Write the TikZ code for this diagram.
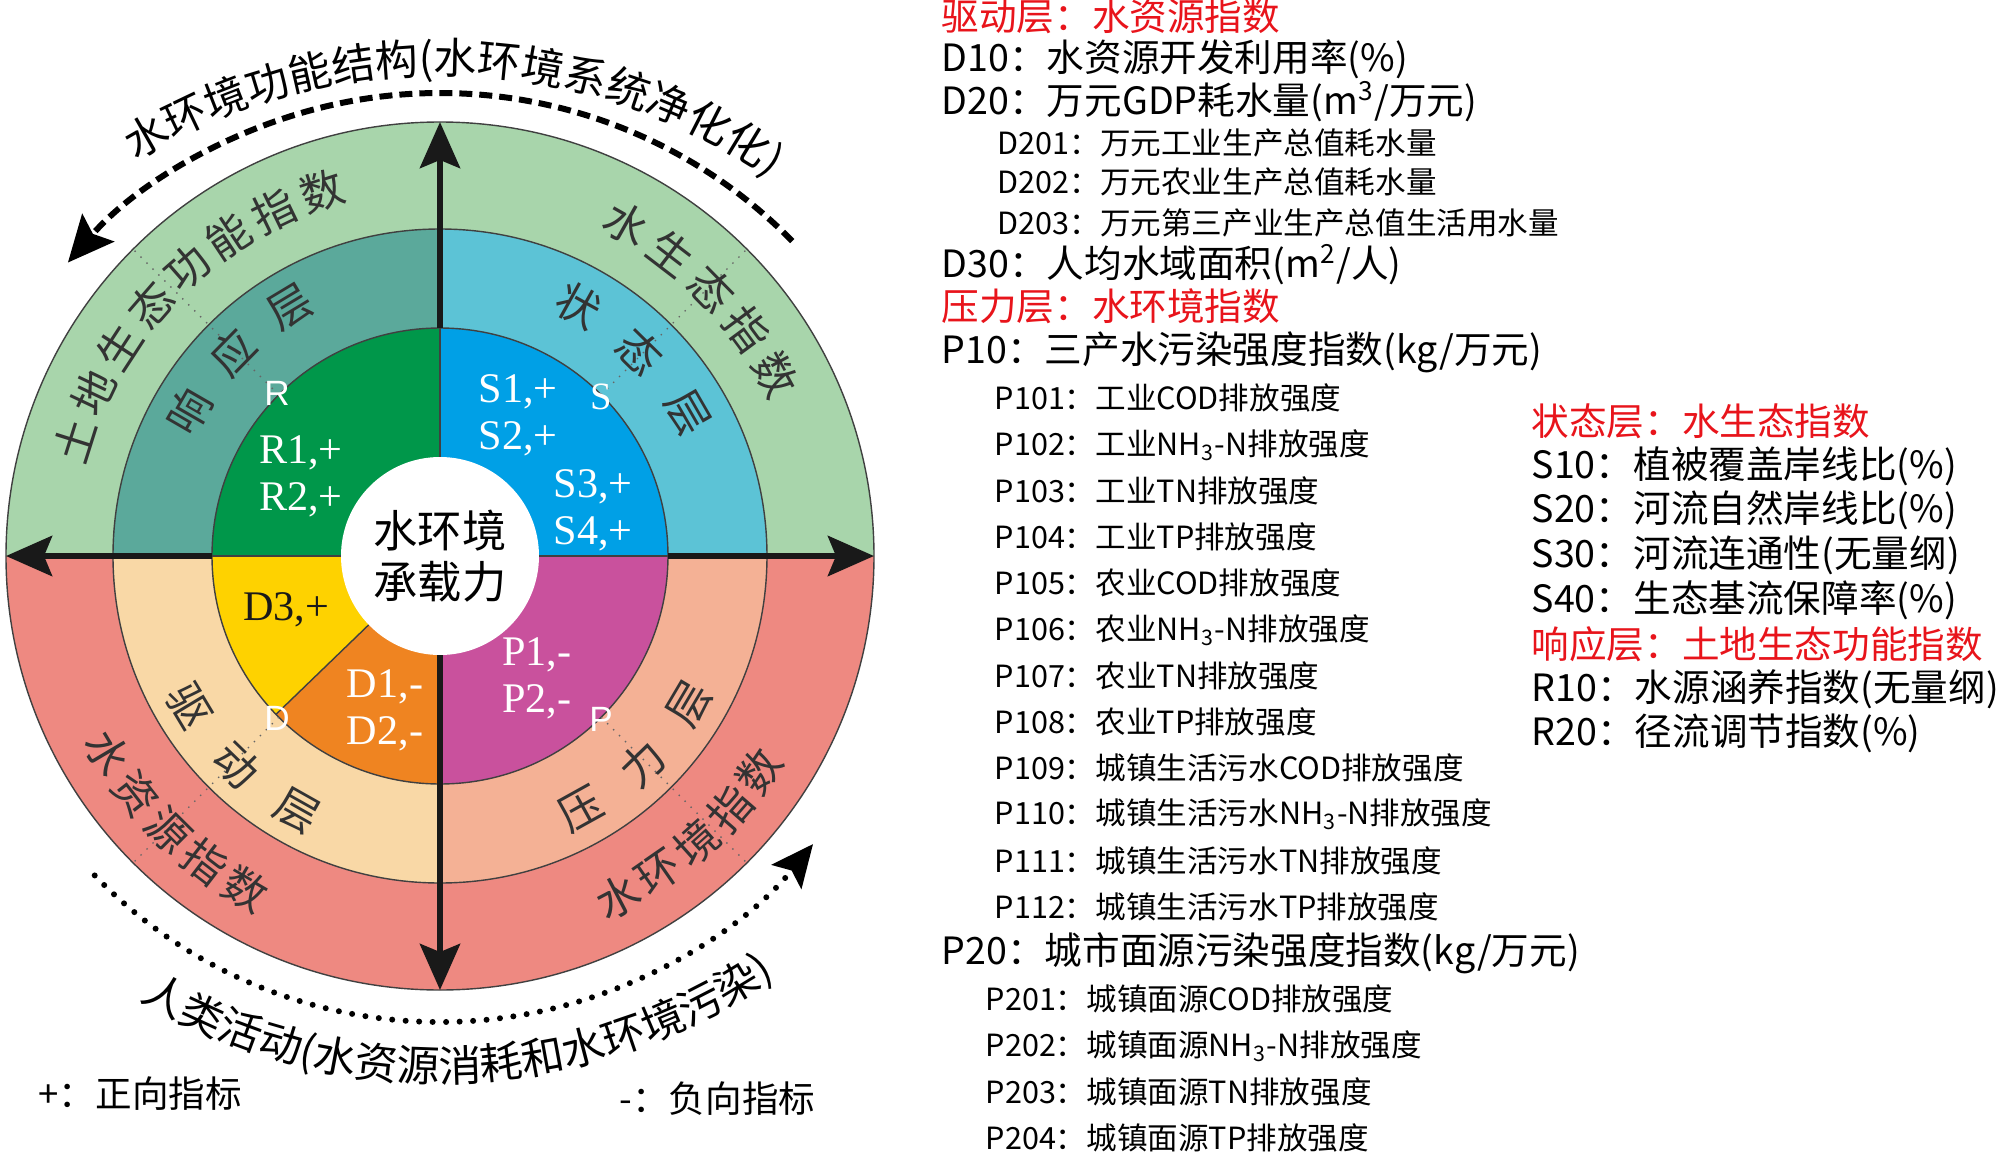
\documentclass[tikz,border=0pt]{standalone}
\usepackage{fontspec}
\setmainfont{Noto Sans CJK SC}
\newfontfamily\romanlab{Liberation Serif}
\newfontfamily\sanslab{Liberation Sans}
\usepackage{xcolor}
\definecolor{landgreen}{HTML}{A8D5AB}
\definecolor{respteal}{HTML}{5BA99B}
\definecolor{stateblue}{HTML}{5CC3D6}
\definecolor{drivepeach}{HTML}{F9D8A6}
\definecolor{presssalmon}{HTML}{F4B195}
\definecolor{waterred}{HTML}{EE8981}
\definecolor{rgreen}{HTML}{00974A}
\definecolor{sblue}{HTML}{00A0E6}
\definecolor{pmagenta}{HTML}{C9519D}
\definecolor{dorange}{HTML}{EF8421}
\definecolor{dyellow}{HTML}{FED200}
\definecolor{headred}{HTML}{E8141B}
\usepackage{tikz}
\usetikzlibrary{arrows.meta, decorations.text, positioning, calc}

\newcommand{\listsz}{\fontsize{10.7pt}{12pt}\selectfont}
\newcommand{\subsz}{\fontsize{8.7pt}{10pt}\selectfont}
\newcommand{\ringsz}{\fontsize{12.4pt}{14pt}\selectfont}
\newcommand{\arcsz}{\fontsize{12.2pt}{14.5pt}\selectfont}
\newcommand{\outerR}{4.34}
\newcommand{\midR}{3.27}
\newcommand{\innerR}{2.28}
\newcommand{\holeR}{0.99}

\begin{document}
\begin{tikzpicture}[every node/.style={font=\listsz}]
\tikzstyle{ringline}=[draw=black!75, line width=0.4pt]
\tikzstyle{diag}=[draw=black!60, line width=0.4pt, dotted]
\tikzstyle{axis}=[line width=0.65mm, black!90, -{Stealth[length=4.6mm,width=4mm,inset=0.8mm]}]
\tikzstyle{ringtxt}=[font=\ringsz, text=black!80, inner sep=0pt]
\tikzstyle{idx}=[font=\romanlab\fontsize{12pt}{13.4pt}\selectfont, text=white, align=left, inner sep=0pt]
\tikzstyle{layerkey}=[font=\sanslab\fontsize{10pt}{10pt}\selectfont, text=white, inner sep=0pt]
\tikzstyle{head}=[anchor=west, inner sep=0pt, text=headred, font=\listsz]
\tikzstyle{item}=[anchor=west, inner sep=0pt, font=\listsz]
\tikzstyle{subitem}=[anchor=west, inner sep=0pt, font=\subsz]
\useasboundingbox (-4.4,-5.98) rectangle (15.6,5.56);

% rings
\fill[landgreen] (0,0) -- (0:\outerR) arc (0:180:\outerR) -- cycle;
\fill[waterred] (0,0) -- (180:\outerR) arc (180:360:\outerR) -- cycle;
\fill[respteal] (0,0) -- (90:\midR) arc (90:180:\midR) -- cycle;
\fill[stateblue] (0,0) -- (0:\midR) arc (0:90:\midR) -- cycle;
\fill[drivepeach] (0,0) -- (180:\midR) arc (180:270:\midR) -- cycle;
\fill[presssalmon] (0,0) -- (270:\midR) arc (270:360:\midR) -- cycle;
\fill[rgreen] (0,0) -- (90:\innerR) arc (90:180:\innerR) -- cycle;
\fill[sblue] (0,0) -- (0:\innerR) arc (0:90:\innerR) -- cycle;
\fill[dyellow] (0,0) -- (180:\innerR) arc (180:224:\innerR) -- cycle;
\fill[dorange] (0,0) -- (224:\innerR) arc (224:270:\innerR) -- cycle;
\fill[pmagenta] (0,0) -- (270:\innerR) arc (270:360:\innerR) -- cycle;
\foreach \r in {\outerR,\midR,\innerR}
  \draw[ringline] (0,0) circle (\r);
\foreach \a in {0,90,180,224}
  \draw[ringline] (\a:\holeR) -- (\a:\innerR);
\foreach \a in {45,135,225,315}
  \draw[diag] (\a:\innerR) -- (\a:\outerR);
\fill[white] (0,0) circle (\holeR);

% axes
\coordinate (n-in) at (90:\innerR);  \coordinate (n-out) at (90:\outerR);
\coordinate (s-in) at (270:\holeR);  \coordinate (s-out) at (270:\outerR);
\coordinate (w-in) at (180:\innerR); \coordinate (w-out) at (180:\outerR);
\coordinate (e-in) at (0:\innerR);   \coordinate (e-out) at (0:\outerR);
\draw[axis] (n-in) -- (n-out);
\draw[axis] (s-in) -- (s-out);
\draw[axis] (w-in) -- (w-out);
\draw[axis] (e-in) -- (e-out);

% outer arcs
\draw[line width=0.6mm, dash pattern=on 1.3mm off 0.7mm,
  -{Stealth[length=4.6mm,width=4.2mm,inset=0.8mm]}]
  ([shift={(0,-0.3)}]44.4:4.93) arc (44.4:139:4.93);
\draw[line width=0.6mm, line cap=round, dash pattern=on 0pt off 1.35mm,
  -{Stealth[length=4.2mm,width=3.8mm,inset=0.8mm]}]
  ([shift={(0,0.14)}]224:4.8) arc (224:321:4.8);
\path[decorate, decoration={text along path, text align=center,
  text={|\arcsz|水环境功能结构(水环境系统净化化)}}]
  ([shift={(0,-0.95)}]125:5.77) arc (125:52:5.77);
\path[decorate, decoration={text along path, text align=center,
  text={|\arcsz|人类活动(水资源消耗和水环境污染)}}]
  ([shift={(0,0.6)}]236:5.86) arc (236:308:5.86);

% ring words
\foreach \c [count=\i] in {土,地,生,态,功,能,指,数} {
  \pgfmathsetmacro\a{162.5-(\i-1)*7.8}
  \node[ringtxt, rotate=\a-90] (land-\i) at (\a:3.83) {\c};
}
\foreach \c [count=\i] in {水,生,态,指,数} {
  \pgfmathsetmacro\a{60.6-(\i-1)*8.05}
  \node[ringtxt, rotate=\a-90] (eco-\i) at (\a:3.81) {\c};
}
\foreach \c [count=\i] in {水,资,源,指,数} {
  \pgfmathsetmacro\a{210.7+(\i-1)*7.25}
  \node[ringtxt, rotate=\a+90] (res-\i) at (\a:3.86) {\c};
}
\foreach \c [count=\i] in {水,环,境,指,数} {
  \pgfmathsetmacro\a{297.6+(\i-1)*7.1}
  \node[ringtxt, rotate=\a+90] (env-\i) at (\a:3.85) {\c};
}
\foreach \c [count=\i] in {响,应,层} {
  \pgfmathsetmacro\a{150-(\i-1)*14.5}
  \node[ringtxt, rotate=\a-90] (resp-\i) at (\a:2.9) {\c};
}
\foreach \c [count=\i] in {状,态,层} {
  \pgfmathsetmacro\a{61-(\i-1)*15.5}
  \node[ringtxt, rotate=\a-90] (state-\i) at (\a:2.86) {\c};
}
\foreach \c [count=\i] in {驱,动,层} {
  \pgfmathsetmacro\a{211+(\i-1)*14.8}
  \node[ringtxt, rotate=\a+90] (drive-\i) at (\a:2.92) {\c};
}
\foreach \c [count=\i] in {压,力,层} {
  \pgfmathsetmacro\a{299+(\i-1)*15.2}
  \node[ringtxt, rotate=\a+90] (press-\i) at (\a:2.9) {\c};
}

% inner labels
\node[font=\fontsize{12.6pt}{14.5pt}\selectfont, align=center, inner sep=0pt] (core) at (0,0) {水环境\\承载力};
\node[layerkey] (keyR) at (-1.63,1.63) {R};
\node[layerkey, font=\romanlab\fontsize{11pt}{11pt}\selectfont] (keyS) at (1.61,1.59) {S};
\node[layerkey] (keyD) at (-1.63,-1.62) {D};
\node[layerkey] (keyP) at (1.61,-1.63) {P};
\node[idx] (rI) at (-1.39,0.80) {R1,+\\R2,+};
\node[idx] (sI) at (0.78,1.41) {S1,+\\S2,+};
\node[idx] (sII) at (1.53,0.46) {S3,+\\S4,+};
\node[idx, text=black!90] (dII) at (-1.54,-0.54) {D3,+};
\node[idx] (dI) at (-0.55,-1.54) {D1,-\\D2,-};
\node[idx] (pI) at (0.97,-1.22) {P1,-\\P2,-};

% legend
\node[item, font=\fontsize{10.4pt}{12pt}\selectfont] (pos) at (-4.02,-5.38) {+：正向指标};
\node[item, font=\fontsize{10.4pt}{12pt}\selectfont] (neg) at (1.79,-5.43) {-：负向指标};

% indicator list
\node[head] (dhead) at (5.01,5.40) {驱动层：水资源指数};
\node[item] (d10) at (5.01,4.97) {D10：水资源开发利用率(\%)};
\node[item] (d20) at (5.01,4.54) {D20：万元GDP耗水量(m\textsuperscript{3}/万元)};
\node[subitem] (d201) at (5.57,4.13) {D201：万元工业生产总值耗水量};
\node[subitem] (d202) at (5.57,3.74) {D202：万元农业生产总值耗水量};
\node[subitem] (d203) at (5.57,3.33) {D203：万元第三产业生产总值生活用水量};
\node[item] (d30) at (5.01,2.91) {D30：人均水域面积(m\textsuperscript{2}/人)};
\node[head] (phead) at (5.01,2.50) {压力层：水环境指数};
\node[item] (p10) at (5.01,2.04) {P10：三产水污染强度指数(kg/万元)};
\node[subitem] (p101) at (5.54,1.58) {P101：工业COD排放强度};
\node[subitem] (p102) at (5.54,1.11) {P102：工业NH\textsubscript{3}-N排放强度};
\node[subitem] (p103) at (5.54,0.65) {P103：工业TN排放强度};
\node[subitem] (p104) at (5.54,0.19) {P104：工业TP排放强度};
\node[subitem] (p105) at (5.54,-0.27) {P105：农业COD排放强度};
\node[subitem] (p106) at (5.54,-0.74) {P106：农业NH\textsubscript{3}-N排放强度};
\node[subitem] (p107) at (5.54,-1.20) {P107：农业TN排放强度};
\node[subitem] (p108) at (5.54,-1.66) {P108：农业TP排放强度};
\node[subitem] (p109) at (5.54,-2.12) {P109：城镇生活污水COD排放强度};
\node[subitem] (p110) at (5.54,-2.58) {P110：城镇生活污水NH\textsubscript{3}-N排放强度};
\node[subitem] (p111) at (5.54,-3.05) {P111：城镇生活污水TN排放强度};
\node[subitem] (p112) at (5.54,-3.51) {P112：城镇生活污水TP排放强度};
\node[item] (p20) at (5.01,-3.97) {P20：城市面源污染强度指数(kg/万元)};
\node[subitem] (p201) at (5.45,-4.43) {P201：城镇面源COD排放强度};
\node[subitem] (p202) at (5.45,-4.90) {P202：城镇面源NH\textsubscript{3}-N排放强度};
\node[subitem] (p203) at (5.45,-5.36) {P203：城镇面源TN排放强度};
\node[subitem] (p204) at (5.45,-5.82) {P204：城镇面源TP排放强度};

\node[head] (shead) at (10.91,1.35) {状态层：水生态指数};
\node[item] (s10) at (10.91,0.90) {S10：植被覆盖岸线比(\%)};
\node[item] (s20) at (10.91,0.46) {S20：河流自然岸线比(\%)};
\node[item] (s30) at (10.91,0.01) {S30：河流连通性(无量纲)};
\node[item] (s40) at (10.91,-0.44) {S40：生态基流保障率(\%)};
\node[head] (rhead) at (10.91,-0.88) {响应层：土地生态功能指数};
\node[item] (r10) at (10.91,-1.33) {R10：水源涵养指数(无量纲)};
\node[item] (r20) at (10.91,-1.77) {R20：径流调节指数(\%)};
\end{tikzpicture}
\end{document}
